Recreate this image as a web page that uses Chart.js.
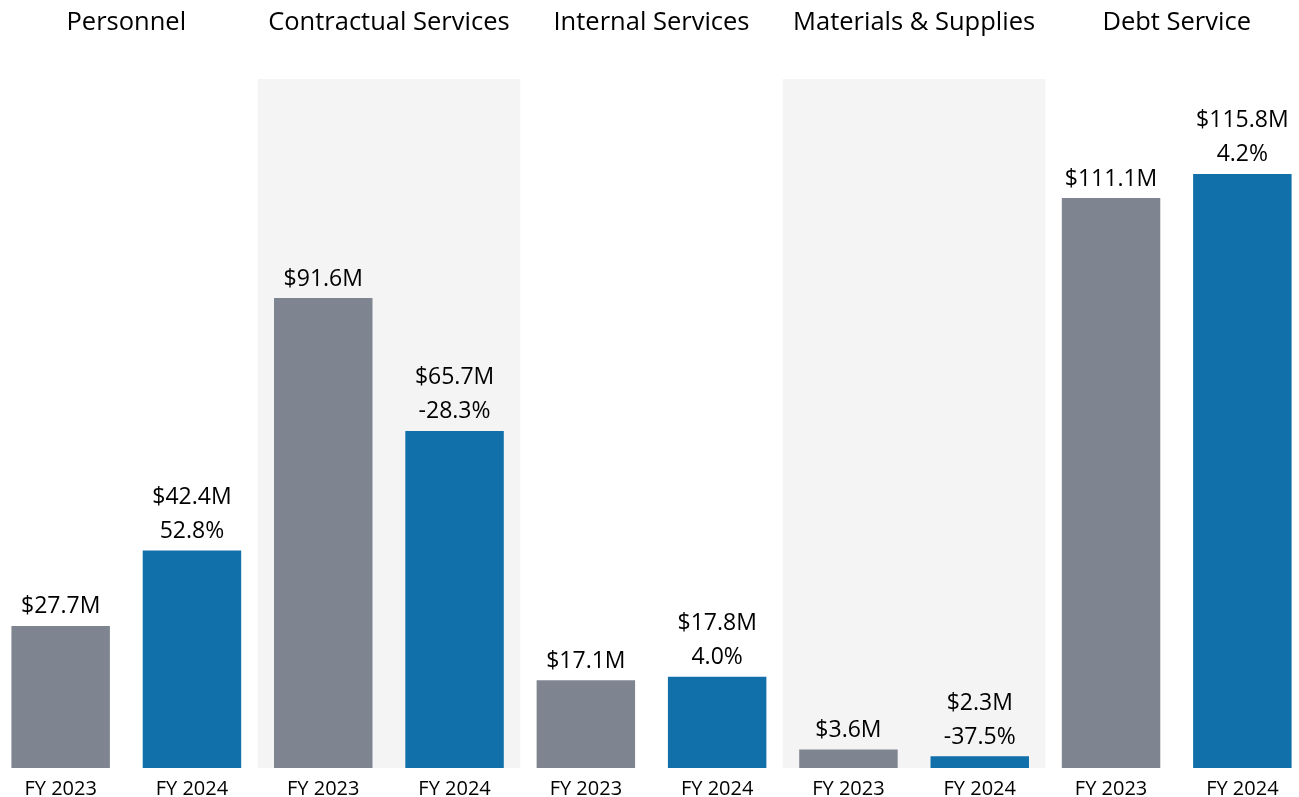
<!DOCTYPE html>
<html>
<head>
<meta charset="utf-8">
<script src="https://cdn.jsdelivr.net/npm/chart.js@4"></script>
<style>
  html, body { margin: 0; padding: 0; background: #fff; overflow: hidden; }
  #wrap { position: absolute; left: -5px; top: 0; width: 1313px; height: 797px; }
</style>
</head>
<body>
<div id="wrap"><canvas id="spendChart"></canvas></div>
<script>
const groups = ['Personnel', 'Contractual Services', 'Internal Services', 'Materials & Supplies', 'Debt Service'];
const years = ['FY 2023', 'FY 2024'];
const fy2023 = [27.7, 91.6, 17.1, 3.6, 111.1];
const fy2024 = [42.4, 65.7, 17.8, 2.3, 115.8];
const pctChange = ['52.8%', '-28.3%', '4.0%', '-37.5%', '4.2%'];

const GRAY = '#7e8590';
const BLUE = '#1170aa';
const SHADE = '#f4f4f4';
const FONT = "'Open Sans', sans-serif";

const labels = [];
const values = [];
const colors = [];
groups.forEach(function (g, i) {
    labels.push(years[0], years[1]);
    values.push(fy2023[i], fy2024[i]);
    colors.push(GRAY, BLUE);
});

// shaded bands behind every other group + group titles on top
const groupPlugin = {
    id: 'groupBands',
    beforeDatasetsDraw(chart) {
        const ctx = chart.ctx;
        const x = chart.scales.x;
        const area = chart.chartArea;
        const step = x.getPixelForValue(1) - x.getPixelForValue(0);
        ctx.save();
        groups.forEach(function (g, i) {
            const left = x.getPixelForValue(i * 2) - step / 2;
            if (i % 2 === 1) {
                ctx.fillStyle = SHADE;
                ctx.fillRect(left, area.top, step * 2, area.bottom - area.top);
            }
            ctx.fillStyle = '#000';
            ctx.font = '25.5px ' + FONT;
            ctx.textAlign = 'center';
            ctx.textBaseline = 'middle';
            ctx.fillText(g, left + step, 23);
        });
        ctx.restore();
    },
    afterDatasetsDraw(chart) {
        const ctx = chart.ctx;
        const meta = chart.getDatasetMeta(0);
        ctx.save();
        ctx.fillStyle = '#000';
        ctx.font = '23px ' + FONT;
        ctx.textAlign = 'center';
        ctx.textBaseline = 'middle';
        meta.data.forEach(function (bar, idx) {
            const gi = Math.floor(idx / 2);
            const v = values[idx];
            const txt = '$' + v.toFixed(1) + 'M';
            if (idx % 2 === 0) {
                ctx.fillText(txt, bar.x, bar.y - 19);
            } else {
                ctx.fillText(txt, bar.x, bar.y - 53);
                ctx.fillText(pctChange[gi], bar.x, bar.y - 19);
            }
        });
        ctx.restore();
    }
};

new Chart(document.getElementById('spendChart'), {
    type: 'bar',
    data: {
        labels: labels,
        datasets: [{
            data: values,
            backgroundColor: colors,
            borderWidth: 0,
            barPercentage: 0.75,
            categoryPercentage: 1
        }]
    },
    options: {
        responsive: true,
        maintainAspectRatio: false,
        animation: false,
        layout: { padding: { top: 79, bottom: 0, left: 0, right: 0 } },
        plugins: {
            legend: { display: false },
            tooltip: { enabled: false }
        },
        scales: {
            x: {
                grid: { display: false, drawTicks: false },
                border: { display: false },
                ticks: {
                    color: '#000',
                    font: { size: 20, family: FONT },
                    padding: 9,
                    maxRotation: 0
                },
                afterFit: function (scale) { scale.height = 29; }
            },
            y: {
                display: false,
                min: 0,
                max: 134.3
            }
        }
    },
    plugins: [groupPlugin]
});
</script>
</body>
</html>
